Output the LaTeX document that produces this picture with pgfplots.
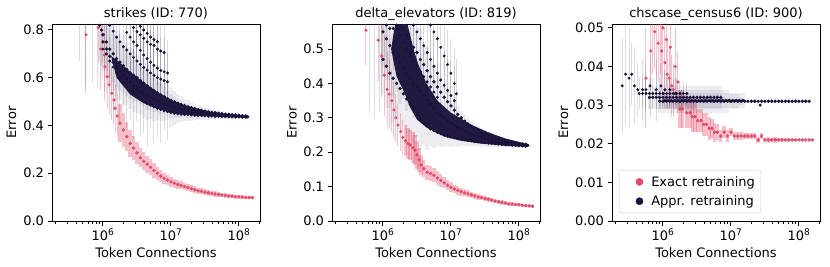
\documentclass[border=0pt]{standalone}
\usepackage{fontspec}
\setmainfont{DejaVu Sans}
\usepackage{pgfplots}
\pgfplotsset{compat=1.18}
\definecolor{exact}{RGB}{226,74,106}
\definecolor{appr}{RGB}{26,18,58}
\newcommand{\fs}{\fontsize{13pt}{15pt}\selectfont}
% x values are log10(Token Connections)
\pgfplotsset{
  mypanel/.style={
    scale only axis, width=208pt, height=197pt, anchor=south west,
    xmin=5.25, xmax=8.31,
    xtick={6,7,8},
    xticklabels={10\textsuperscript{6},10\textsuperscript{7},10\textsuperscript{8}},
    minor xtick={5.301,5.477,5.602,5.699,5.778,5.845,5.903,5.954,6.301,6.477,6.602,6.699,6.778,6.845,6.903,6.954,7.301,7.477,7.602,7.699,7.778,7.845,7.903,7.954,8.301},
    tick align=outside, tick pos=left,
    major tick length=4.5pt, minor tick length=2.6pt,
    every major tick/.style={black, line width=1pt},
    every minor tick/.style={black, line width=0.75pt},
    axis line style={line width=1pt},
    scaled y ticks=false,
    /pgf/number format/assume math mode=true,
    tick label style={font=\fs},
    label style={font=\fs},
    title style={font=\fs},
    every axis title/.style={at={(axis description cs:0.5,1)}, anchor=base, yshift=7pt, font=\fs},
    every axis x label/.style={at={(axis description cs:0.5,0)}, anchor=base, yshift=-36pt, font=\fs},
    xlabel={Token Connections}, ylabel={Error},
    clip=true,
  },
  yprec/.style={yticklabel style={/pgf/number format/fixed, /pgf/number format/fixed zerofill, /pgf/number format/precision=#1}},
  exthin/.style={only marks, mark=*, mark size=1.4pt, color=exact, mark options={draw=none, fill=exact},
    error bars/y dir=both, error bars/y explicit, error bars/error mark=none,
    error bars/error bar style={line width=1pt, exact, opacity=0.35}},
  exthick/.style={only marks, mark=*, mark size=1.5pt, color=exact, mark options={draw=none, fill=exact},
    error bars/y dir=both, error bars/y explicit, error bars/error mark=none,
    error bars/error bar style={line width=3.4pt, exact, opacity=0.36}},
  apthin/.style={only marks, mark=*, mark size=1.3pt, color=appr, mark options={draw=none, fill=appr},
    error bars/y dir=both, error bars/y explicit, error bars/error mark=none,
    error bars/error bar style={line width=1pt, appr, opacity=0.15}},
  apthick/.style={only marks, mark=*, mark size=1.5pt, color=appr, mark options={draw=none, fill=appr},
    error bars/y dir=both, error bars/y explicit, error bars/error mark=none,
    error bars/error bar style={line width=3.4pt, appr, opacity=0.08}},
  mass/.style={fill=appr, draw=none, fill opacity=0.96, forget plot},
}
\begin{document}
\begin{tikzpicture}
\path[use as bounding box] (0,0) rectangle (830pt,266pt);
% ---------------- Panel 1 ----------------
\begin{axis}[mypanel, at={(52pt,45pt)}, title={strikes (ID: 770)},
  ymin=0, ymax=0.825, ytick={0,0.2,0.4,0.6,0.8}, yprec=1,
  every axis y label/.style={at={(axis description cs:-0.195,0.5)}, rotate=90, anchor=center, font=\fs}]
\addplot[exthin] table[row sep=\\, x=x, y=y, y error=e] {
x y e\\
5.75 0.78 0.25\\ 5.929 0.81 0.15\\ 5.968 0.72 0.17\\ 6.021 0.695 0.15\\ 6.029 0.646 0.14\\
6.061 0.604 0.13\\ 6.09 0.57 0.12\\ 6.13 0.535 0.11\\ 6.161 0.507 0.10\\ 6.179 0.472 0.10\\
6.21 0.44 0.09\\
};
\addplot[exthick] table[row sep=\\, x=x, y=y, y error=e] {
x y e\\
6.25 0.41 0.08\\ 6.30 0.381 0.07\\ 6.35 0.353 0.06\\ 6.40 0.325 0.055\\
6.45 0.305 0.05\\ 6.50 0.285 0.045\\ 6.55 0.265 0.04\\ 6.60 0.25 0.038\\ 6.65 0.238 0.035\\
6.70 0.225 0.033\\ 6.75 0.212 0.03\\ 6.80 0.2 0.028\\ 6.85 0.188 0.026\\ 6.90 0.179 0.024\\
6.95 0.171 0.022\\ 7.00 0.164 0.02\\ 7.05 0.158 0.019\\ 7.10 0.153 0.018\\ 7.15 0.149 0.017\\
7.20 0.144 0.016\\ 7.25 0.14 0.015\\ 7.30 0.135 0.014\\ 7.35 0.131 0.014\\ 7.40 0.127 0.013\\
7.45 0.124 0.013\\ 7.50 0.121 0.012\\ 7.55 0.118 0.012\\ 7.60 0.116 0.011\\ 7.65 0.113 0.011\\
7.70 0.111 0.01\\ 7.75 0.109 0.01\\ 7.80 0.107 0.009\\ 7.85 0.105 0.009\\ 7.90 0.104 0.008\\
7.95 0.102 0.008\\ 8.00 0.101 0.007\\ 8.05 0.100 0.007\\ 8.10 0.099 0.006\\ 8.15 0.098 0.006\\
8.20 0.098 0.005\\
};
\addplot[apthin] table[row sep=\\, x=x, y=y, y error=e] {
x y e\\
5.65 0.95 0.28\\ 5.75 0.92 0.35\\ 5.85 0.90 0.32\\ 5.919 0.86 0.30\\ 5.949 0.82 0.15\\ 5.978 0.80 0.15\\
6.05 0.84 0.12\\ 6.10 0.82 0.12\\ 6.15 0.795 0.12\\ 6.20 0.77 0.12\\ 6.25 0.75 0.12\\ 6.30 0.73 0.12\\
6.35 0.716 0.12\\ 6.40 0.70 0.12\\ 6.45 0.685 0.12\\ 6.50 0.67 0.12\\ 6.55 0.656 0.12\\ 6.60 0.643 0.12\\
6.65 0.632 0.12\\ 6.70 0.62 0.12\\ 6.75 0.61 0.12\\ 6.80 0.60 0.12\\ 6.85 0.594 0.12\\ 6.90 0.588 0.12\\ 6.95 0.583 0.12\\
6.35 0.79 0.14\\ 6.40 0.77 0.14\\ 6.45 0.75 0.14\\ 6.50 0.735 0.14\\ 6.55 0.715 0.14\\ 6.60 0.695 0.14\\
6.65 0.68 0.14\\ 6.70 0.665 0.14\\ 6.75 0.652 0.14\\ 6.80 0.64 0.14\\ 6.85 0.63 0.14\\ 6.90 0.625 0.14\\ 6.95 0.62 0.14\\
6.45 0.81 0.15\\ 6.50 0.793 0.15\\ 6.55 0.78 0.15\\ 6.60 0.765 0.15\\ 6.65 0.75 0.15\\ 6.70 0.74 0.15\\
6.75 0.735 0.15\\ 6.80 0.72 0.15\\ 6.85 0.712 0.15\\ 6.90 0.705 0.15\\
6.50 0.83 0.15\\ 6.55 0.815 0.15\\ 6.60 0.80 0.15\\ 6.65 0.786 0.15\\ 6.70 0.77 0.15\\ 6.75 0.76 0.15\\ 6.80 0.751 0.15\\
6.00 0.72 0.12\\ 6.05 0.70 0.16\\ 6.10 0.67 0.10\\ 6.15 0.645 0.18\\ 6.20 0.62 0.12\\ 6.25 0.60 0.20\\
6.30 0.58 0.10\\ 6.35 0.56 0.17\\ 6.40 0.548 0.12\\ 6.45 0.535 0.19\\ 6.50 0.52 0.10\\ 6.55 0.51 0.16\\
6.60 0.50 0.13\\ 6.65 0.492 0.18\\ 6.70 0.485 0.10\\ 6.75 0.478 0.15\\ 6.80 0.472 0.12\\ 6.85 0.467 0.14\\
6.90 0.462 0.08\\ 6.95 0.458 0.12\\
};
\addplot[mass] coordinates {(6.12,0.69) (6.2,0.675) (6.4,0.625) (6.6,0.58) (6.8,0.54) (7.0,0.507) (7.2,0.485) (7.4,0.469) (7.6,0.456) (7.8,0.448) (8.0,0.443) (8.12,0.439) (8.14,0.436)
 (8.12,0.433) (8.0,0.434) (7.8,0.436) (7.6,0.439) (7.4,0.442) (7.2,0.446) (7.0,0.454) (6.8,0.47) (6.6,0.493) (6.4,0.53) (6.2,0.6)} -- cycle;
\addplot[apthick] table[row sep=\\, x=x, y=y, y error=e] {
x y e\\
6.00 0.78 0.12\\ 6.05 0.75 0.12\\ 6.10 0.72 0.12\\ 6.15 0.70 0.12\\ 6.20 0.68 0.12\\ 6.25 0.665 0.12\\
6.30 0.65 0.12\\ 6.35 0.635 0.11\\ 6.40 0.62 0.11\\ 6.45 0.61 0.11\\ 6.50 0.60 0.10\\ 6.55 0.588 0.10\\
6.60 0.577 0.10\\ 6.65 0.566 0.10\\ 6.70 0.555 0.09\\ 6.75 0.546 0.09\\ 6.80 0.537 0.08\\ 6.85 0.528 0.08\\
6.90 0.52 0.07\\ 6.95 0.512 0.06\\ 7.00 0.505 0.05\\ 7.05 0.499 0.045\\ 7.10 0.493 0.04\\ 7.15 0.488 0.035\\
7.20 0.483 0.03\\ 7.25 0.478 0.028\\ 7.30 0.474 0.025\\ 7.35 0.47 0.022\\ 7.40 0.466 0.02\\ 7.45 0.463 0.018\\
7.50 0.46 0.016\\ 7.55 0.457 0.015\\ 7.60 0.455 0.014\\ 7.65 0.453 0.013\\ 7.70 0.451 0.012\\ 7.75 0.449 0.011\\
7.80 0.447 0.01\\ 7.85 0.446 0.009\\ 7.90 0.445 0.008\\ 7.95 0.444 0.007\\ 8.00 0.443 0.006\\ 8.05 0.441 0.005\\ 8.10 0.44 0.005\\
6.00 0.75 0.12\\ 6.05 0.72 0.12\\ 6.10 0.69 0.12\\ 6.15 0.665 0.12\\ 6.20 0.645 0.12\\ 6.25 0.625 0.12\\
6.30 0.61 0.12\\ 6.35 0.595 0.11\\ 6.40 0.58 0.11\\ 6.45 0.565 0.11\\ 6.50 0.552 0.10\\ 6.55 0.542 0.10\\
6.60 0.533 0.10\\ 6.65 0.525 0.10\\ 6.70 0.517 0.09\\ 6.75 0.51 0.09\\ 6.80 0.503 0.08\\ 6.85 0.497 0.08\\
6.90 0.49 0.07\\ 6.95 0.485 0.06\\ 7.00 0.48 0.05\\ 7.05 0.475 0.045\\ 7.10 0.471 0.04\\ 7.15 0.467 0.035\\
7.20 0.464 0.03\\ 7.25 0.461 0.028\\ 7.30 0.458 0.025\\ 7.35 0.456 0.022\\ 7.40 0.454 0.02\\ 7.45 0.452 0.018\\
7.50 0.45 0.016\\ 7.55 0.448 0.015\\ 7.60 0.447 0.014\\ 7.65 0.446 0.013\\ 7.70 0.445 0.012\\ 7.75 0.444 0.011\\
7.80 0.443 0.01\\ 7.85 0.442 0.009\\ 7.90 0.441 0.008\\ 7.95 0.44 0.007\\ 8.00 0.439 0.006\\ 8.05 0.438 0.005\\ 8.10 0.437 0.005\\ 8.13 0.436 0.004\\
7.00 0.455 0.06\\ 7.05 0.452 0.05\\ 7.10 0.45 0.04\\ 7.15 0.448 0.035\\
7.20 0.447 0.03\\ 7.25 0.446 0.028\\ 7.30 0.445 0.025\\ 7.35 0.444 0.022\\ 7.40 0.443 0.02\\ 7.45 0.442 0.018\\
7.50 0.441 0.016\\ 7.55 0.44 0.015\\ 7.60 0.44 0.014\\ 7.65 0.439 0.013\\ 7.70 0.439 0.012\\ 7.75 0.438 0.011\\
7.80 0.438 0.01\\ 7.85 0.437 0.009\\ 7.90 0.437 0.008\\ 7.95 0.436 0.007\\ 8.00 0.436 0.006\\ 8.05 0.435 0.005\\ 8.10 0.435 0.005\\
};
\end{axis}
% ---------------- Panel 2 ----------------
\begin{axis}[mypanel, at={(332pt,45pt)}, title={delta\_elevators (ID: 819)},
  ymin=0, ymax=0.573, ytick={0,0.1,0.2,0.3,0.4,0.5}, yprec=1,
  every axis y label/.style={at={(axis description cs:-0.192,0.5)}, rotate=90, anchor=center, font=\fs}]
\addplot[exthin] table[row sep=\\, x=x, y=y, y error=e] {
x y e\\
5.75 0.555 0.10\\ 5.929 0.526 0.12\\ 5.98 0.48 0.12\\ 6.021 0.424 0.12\\ 6.061 0.383 0.11\\
6.09 0.369 0.10\\ 6.13 0.35 0.09\\ 6.161 0.323 0.08\\ 6.19 0.30 0.07\\ 6.22 0.279 0.06\\
6.26 0.26 0.055\\ 6.29 0.243 0.05\\
};
\addplot[exthick] table[row sep=\\, x=x, y=y, y error=e] {
x y e\\
6.33 0.233 0.045\\ 6.369 0.225 0.045\\ 6.40 0.221 0.045\\
6.439 0.213 0.045\\ 6.47 0.206 0.044\\ 6.50 0.192 0.04\\ 6.53 0.178 0.035\\ 6.56 0.163 0.03\\
6.60 0.152 0.025\\ 6.65 0.142 0.022\\ 6.70 0.138 0.022\\ 6.75 0.133 0.02\\ 6.80 0.125 0.02\\
6.85 0.118 0.018\\ 6.90 0.111 0.016\\ 6.95 0.104 0.015\\ 7.00 0.098 0.014\\ 7.05 0.093 0.013\\
7.10 0.089 0.012\\ 7.15 0.085 0.011\\ 7.20 0.082 0.01\\ 7.25 0.079 0.01\\ 7.30 0.076 0.009\\
7.35 0.073 0.009\\ 7.40 0.070 0.008\\ 7.45 0.068 0.008\\ 7.50 0.065 0.007\\ 7.55 0.063 0.007\\
7.60 0.061 0.007\\ 7.65 0.058 0.006\\ 7.70 0.056 0.006\\ 7.75 0.054 0.006\\ 7.80 0.052 0.005\\
7.85 0.050 0.005\\ 7.90 0.049 0.005\\ 7.95 0.048 0.005\\ 8.00 0.047 0.004\\ 8.05 0.046 0.004\\
8.10 0.045 0.004\\ 8.15 0.044 0.004\\ 8.20 0.043 0.004\\
};
\addplot[apthin] table[row sep=\\, x=x, y=y, y error=e] {
x y e\\
5.80 0.62 0.30\\ 5.88 0.60 0.30\\ 5.95 0.60 0.28\\ 6.00 0.62 0.20\\
6.05 0.57 0.12\\ 6.10 0.56 0.12\\ 6.15 0.56 0.12\\ 6.20 0.57 0.12\\ 6.25 0.565 0.12\\
6.45 0.57 0.10\\ 6.50 0.55 0.10\\ 6.55 0.53 0.10\\ 6.60 0.51 0.10\\ 6.65 0.49 0.10\\ 6.70 0.47 0.10\\
6.75 0.45 0.10\\ 6.80 0.43 0.10\\ 6.85 0.41 0.10\\ 6.90 0.395 0.10\\ 6.95 0.38 0.10\\ 7.00 0.365 0.10\\ 7.05 0.35 0.10\\
6.70 0.57 0.10\\ 6.75 0.55 0.10\\ 6.80 0.53 0.10\\ 6.85 0.505 0.10\\ 6.90 0.48 0.10\\ 6.95 0.455 0.10\\
7.00 0.43 0.10\\ 7.05 0.40 0.10\\ 7.079 0.37 0.10\\
6.20 0.56 0.10\\ 6.25 0.54 0.10\\ 6.30 0.52 0.10\\ 6.35 0.50 0.10\\ 6.40 0.48 0.10\\ 6.45 0.465 0.10\\
6.50 0.45 0.10\\ 6.55 0.435 0.10\\ 6.60 0.42 0.10\\ 6.65 0.405 0.10\\ 6.70 0.39 0.10\\ 6.75 0.375 0.10\\ 6.80 0.36 0.10\\
};
\addplot[mass] coordinates {(6.12,0.50) (6.18,0.573) (6.36,0.573) (6.45,0.50) (6.52,0.455) (6.64,0.40) (6.8,0.35) (7.0,0.315) (7.13,0.30) (7.3,0.28) (7.5,0.262) (7.63,0.252) (7.8,0.24) (8.0,0.23) (8.12,0.224) (8.14,0.22)
 (8.12,0.216) (8.0,0.217) (7.8,0.219) (7.63,0.222) (7.4,0.226) (7.13,0.234) (6.9,0.246) (6.64,0.272) (6.5,0.295) (6.4,0.33) (6.3,0.38) (6.2,0.42)} -- cycle;
\addplot[apthick] table[row sep=\\, x=x, y=y, y error=e] {
x y e\\
6.30 0.56 0.09\\ 6.35 0.54 0.11\\ 6.40 0.52 0.08\\ 6.45 0.505 0.10\\ 6.50 0.49 0.07\\ 6.55 0.47 0.09\\
6.60 0.455 0.06\\ 6.65 0.437 0.07\\ 6.70 0.42 0.05\\ 6.75 0.405 0.05\\ 6.80 0.39 0.04\\ 6.85 0.375 0.04\\
6.90 0.36 0.035\\ 6.95 0.347 0.03\\ 7.00 0.335 0.03\\ 7.05 0.322 0.025\\ 7.10 0.31 0.025\\ 7.15 0.30 0.02\\
7.20 0.29 0.02\\ 7.25 0.282 0.018\\ 7.30 0.275 0.016\\ 7.35 0.269 0.015\\ 7.40 0.263 0.014\\ 7.45 0.258 0.013\\
7.50 0.253 0.012\\ 7.55 0.249 0.011\\ 7.60 0.245 0.01\\ 7.65 0.241 0.01\\ 7.70 0.238 0.009\\ 7.75 0.235 0.008\\
7.80 0.233 0.008\\ 7.85 0.231 0.007\\ 7.90 0.229 0.006\\ 7.95 0.228 0.006\\ 8.00 0.226 0.005\\ 8.05 0.224 0.005\\ 8.10 0.223 0.004\\
6.00 0.55 0.10\\ 6.05 0.53 0.12\\ 6.10 0.51 0.10\\ 6.15 0.49 0.13\\ 6.20 0.475 0.10\\ 6.25 0.46 0.12\\
6.30 0.445 0.09\\ 6.35 0.43 0.11\\ 6.40 0.415 0.08\\ 6.45 0.40 0.10\\ 6.50 0.39 0.07\\ 6.55 0.377 0.09\\
6.60 0.365 0.06\\ 6.65 0.352 0.07\\ 6.70 0.34 0.05\\ 6.75 0.327 0.05\\ 6.80 0.315 0.04\\ 6.85 0.307 0.04\\
6.90 0.30 0.035\\ 6.95 0.292 0.03\\ 7.00 0.285 0.03\\ 7.05 0.278 0.025\\ 7.10 0.272 0.025\\ 7.15 0.267 0.02\\
7.20 0.262 0.02\\ 7.25 0.257 0.018\\ 7.30 0.253 0.016\\ 7.35 0.249 0.015\\ 7.40 0.246 0.014\\ 7.45 0.243 0.013\\
7.50 0.24 0.012\\ 7.55 0.237 0.011\\ 7.60 0.235 0.01\\ 7.65 0.233 0.01\\ 7.70 0.231 0.009\\ 7.75 0.229 0.008\\
7.80 0.228 0.008\\ 7.85 0.226 0.007\\ 7.90 0.225 0.006\\ 7.95 0.224 0.006\\ 8.00 0.223 0.005\\ 8.05 0.222 0.005\\ 8.10 0.221 0.004\\ 8.13 0.22 0.004\\
6.00 0.47 0.10\\ 6.05 0.45 0.12\\ 6.10 0.43 0.10\\ 6.15 0.415 0.13\\ 6.20 0.40 0.10\\ 6.25 0.385 0.12\\
6.30 0.37 0.09\\ 6.35 0.355 0.11\\ 6.40 0.34 0.08\\ 6.45 0.325 0.10\\ 6.50 0.31 0.07\\ 6.55 0.297 0.09\\
6.60 0.285 0.06\\ 6.65 0.276 0.07\\ 6.70 0.268 0.05\\ 6.75 0.263 0.05\\ 6.80 0.258 0.04\\ 6.85 0.254 0.04\\
6.90 0.25 0.035\\ 6.95 0.247 0.03\\ 7.00 0.245 0.03\\ 7.05 0.243 0.025\\ 7.10 0.241 0.025\\ 7.15 0.239 0.02\\
7.20 0.237 0.02\\ 7.25 0.235 0.018\\ 7.30 0.234 0.016\\ 7.35 0.232 0.015\\ 7.40 0.231 0.014\\ 7.45 0.229 0.013\\
7.50 0.228 0.012\\ 7.55 0.227 0.011\\ 7.60 0.226 0.01\\ 7.65 0.225 0.01\\ 7.70 0.224 0.009\\ 7.75 0.223 0.008\\
7.80 0.222 0.008\\ 7.85 0.222 0.007\\ 7.90 0.221 0.006\\ 7.95 0.22 0.006\\ 8.00 0.219 0.005\\ 8.05 0.219 0.005\\ 8.10 0.218 0.004\\
};
\end{axis}
% ---------------- Panel 3 ----------------
\begin{axis}[mypanel, at={(612pt,45pt)}, title={chscase\_census6 (ID: 900)},
  ymin=0, ymax=0.051, ytick={0,0.01,0.02,0.03,0.04,0.05}, yprec=2,
  every axis y label/.style={at={(axis description cs:-0.233,0.5)}, rotate=90, anchor=center, font=\fs},
  legend style={at={(axis description cs:0.034,0.04)}, anchor=south west, draw=black!18, rounded corners=2pt,
    font=\fs, row sep=4pt, inner xsep=4pt, inner ysep=4pt},
  legend cell align=left]
\addlegendimage{legend image code/.code={\path (0pt,0pt); \fill[exact] (16pt,0pt) circle (3.6pt);}}
\addlegendentry{\hspace{6pt}Exact retraining}
\addlegendimage{legend image code/.code={\path (0pt,0pt); \fill[appr] (16pt,0pt) circle (3.6pt);}}
\addlegendentry{\hspace{6pt}Appr. retraining}
\addplot[exthin, forget plot] table[row sep=\\, x=x, y=y, y error=e] {
x y e\\
5.75 0.037 0.013\\ 5.82 0.044 0.01\\ 5.88 0.049 0.01\\ 5.93 0.046 0.01\\ 5.98 0.044 0.01\\
6.029 0.041 0.009\\ 6.061 0.038 0.009\\ 6.09 0.037 0.008\\ 6.13 0.035 0.008\\ 6.15 0.034 0.007\\
5.85 0.052 0.014\\ 5.90 0.053 0.016\\ 5.96 0.052 0.014\\ 6.00 0.050 0.013\\ 6.05 0.047 0.012\\ 6.11 0.045 0.011\\ 6.18 0.040 0.010\\ 6.22 0.036 0.008\\
};
\addplot[exthick, forget plot] table[row sep=\\, x=x, y=y, y error=e] {
x y e\\
6.25 0.029 0.005\\ 6.29 0.029 0.005\\ 6.35 0.028 0.004\\ 6.40 0.028 0.004\\ 6.43 0.027 0.004\\
6.47 0.027 0.004\\ 6.511 0.026 0.003\\ 6.56 0.026 0.003\\ 6.60 0.025 0.003\\ 6.64 0.025 0.003\\
6.68 0.024 0.003\\ 6.72 0.024 0.0025\\ 6.76 0.023 0.0025\\ 6.80 0.023 0.002\\ 6.85 0.022 0.0015\\
6.90 0.023 0.0015\\ 6.95 0.022 0.0015\\ 7.00 0.023 0.001\\ 7.05 0.022 0.001\\ 7.10 0.022 0.001\\
7.15 0.022 0.001\\ 7.20 0.022 0.0008\\ 7.25 0.022 0.0008\\ 7.30 0.022 0.0008\\ 7.35 0.022 0.0008\\
7.40 0.021 0.0008\\ 7.45 0.022 0.0008\\ 7.50 0.021 0.0006\\ 7.55 0.021 0.0008\\ 7.60 0.021 0.0006\\
7.65 0.021 0.0008\\ 7.70 0.021 0.0006\\ 7.75 0.021 0.0006\\ 7.80 0.021 0.0003\\ 7.85 0.021 0.0006\\
7.90 0.021 0.0003\\ 7.95 0.021 0.0003\\ 8.00 0.021 0.0002\\ 8.05 0.021 0\\ 8.10 0.021 0\\
8.15 0.021 0\\ 8.20 0.021 0\\
};
\addplot[apthin, forget plot] table[row sep=\\, x=x, y=y, y error=e] {
x y e\\
5.40 0.035 0.012\\ 5.45 0.038 0.013\\ 5.50 0.037 0.013\\ 5.54 0.038 0.008\\ 5.58 0.035 0.010\\
5.63 0.034 0.007\\ 5.70 0.034 0.008\\ 5.75 0.034 0.006\\ 5.81 0.035 0.008\\ 5.90 0.034 0.008\\
5.97 0.035 0.006\\ 6.029 0.034 0.005\\ 6.10 0.034 0.004\\ 6.179 0.033 0.004\\
5.65 0.033 0.004\\ 5.70 0.033 0.004\\ 5.75 0.033 0.004\\ 5.80 0.033 0.004\\ 5.85 0.033 0.004\\
5.90 0.033 0.004\\ 5.95 0.033 0.004\\ 6.00 0.033 0.004\\ 6.05 0.033 0.004\\ 6.10 0.033 0.004\\
6.15 0.033 0.004\\ 6.20 0.033 0.004\\ 6.25 0.033 0.003\\ 6.30 0.033 0.003\\ 6.35 0.033 0.003\\
7.43 0.030 0\\
};
\addplot[apthick, forget plot] table[row sep=\\, x=x, y=y, y error=e] {
x y e\\
5.80 0.032 0.003\\ 5.85 0.032 0.003\\ 5.90 0.032 0.003\\ 5.95 0.032 0.003\\ 6.00 0.032 0.003\\
6.05 0.032 0.003\\ 6.10 0.032 0.003\\ 6.15 0.032 0.003\\ 6.20 0.032 0.003\\ 6.25 0.032 0.003\\
6.30 0.032 0.003\\ 6.35 0.032 0.003\\ 6.40 0.032 0.003\\ 6.45 0.032 0.003\\ 6.50 0.032 0.003\\
6.55 0.032 0.003\\ 6.60 0.032 0.003\\ 6.65 0.032 0.003\\ 6.70 0.032 0.003\\ 6.75 0.032 0.003\\
6.80 0.032 0.003\\ 6.85 0.032 0.003\\
5.95 0.031 0.003\\ 6.00 0.031 0.003\\ 6.05 0.031 0.003\\ 6.10 0.031 0.003\\ 6.15 0.031 0.003\\
6.20 0.031 0.003\\ 6.25 0.031 0.003\\ 6.30 0.031 0.003\\ 6.35 0.031 0.003\\ 6.40 0.031 0.003\\
6.45 0.031 0.003\\ 6.50 0.031 0.003\\ 6.55 0.031 0.003\\ 6.60 0.031 0.003\\ 6.65 0.031 0.003\\
6.70 0.031 0.003\\ 6.75 0.031 0.003\\ 6.80 0.031 0.003\\ 6.85 0.031 0.003\\ 6.90 0.031 0.003\\
6.95 0.031 0.003\\ 7.00 0.031 0.002\\ 7.05 0.031 0.002\\ 7.10 0.031 0.002\\ 7.15 0.031 0.001\\
7.20 0.031 0.0004\\ 7.25 0.031 0.0004\\ 7.30 0.031 0.0004\\ 7.35 0.031 0.0004\\ 7.40 0.031 0.0004\\
7.45 0.031 0.0004\\ 7.50 0.031 0.0004\\ 7.55 0.031 0.0004\\ 7.60 0.031 0.0004\\ 7.65 0.031 0.0004\\
7.70 0.031 0.0004\\ 7.75 0.031 0.0004\\ 7.80 0.031 0.0004\\ 7.85 0.031 0.0004\\ 7.90 0.031 0.0004\\
7.95 0.031 0.0004\\ 8.00 0.031 0.0004\\ 8.05 0.031 0.0004\\ 8.10 0.031 0.0004\\ 8.15 0.031 0.0004\\
6.025 0.0312 0.002\\ 6.076 0.0312 0.002\\ 6.124 0.0312 0.002\\ 6.176 0.0312 0.002\\ 6.225 0.0312 0.002\\
6.274 0.0312 0.002\\ 6.324 0.0312 0.002\\ 6.375 0.0312 0.002\\ 6.425 0.0312 0.002\\ 6.476 0.0312 0.002\\
6.525 0.0312 0.002\\ 6.575 0.0312 0.002\\ 6.625 0.0312 0.002\\ 6.675 0.0312 0.002\\ 6.725 0.0312 0.002\\
6.775 0.0312 0.002\\ 6.825 0.0312 0.002\\ 6.875 0.0312 0.002\\ 6.925 0.0312 0.002\\ 6.975 0.0312 0.002\\
7.025 0.0312 0.002\\ 7.076 0.0312 0.002\\ 7.124 0.0312 0.002\\ 7.176 0.0312 0.002\\
};
\end{axis}
\end{tikzpicture}
\end{document}
